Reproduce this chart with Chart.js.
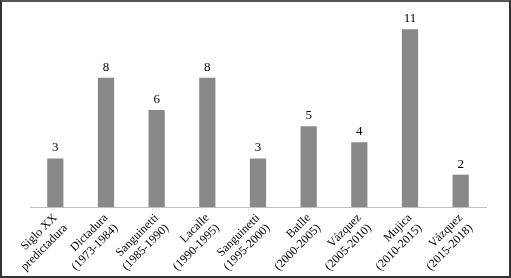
<!DOCTYPE html>
<html>
<head>
<meta charset="utf-8">
<script src="https://cdn.jsdelivr.net/npm/chart.js@4"></script>
<style>
  body { margin: 0; background: #fff; }
  #wrap { position: relative; width: 511px; height: 278px; }
  #frame { position: absolute; left: 0; top: 0; width: 511px; height: 278px; box-sizing: border-box;
           border: 2px solid #333; border-top-color: #555; pointer-events: none; }
</style>
</head>
<body>
<div id="wrap">
  <canvas id="chart" width="511" height="278"></canvas>
  <div id="frame"></div>
</div>
<script>
const labels = [
  ["Siglo XX", "predictadura"],
  ["Dictadura", "(1973-1984)"],
  ["Sanguinetti", "(1985-1990)"],
  ["Lacalle", "(1990-1995)"],
  ["Sanguinetti", "(1995-2000)"],
  ["Batlle", "(2000-2005)"],
  ["Vázquez", "(2005-2010)"],
  ["Mujica", "(2010-2015)"],
  ["Vázquez", "(2015-2018)"]
];
const values = [3, 8, 6, 8, 3, 5, 4, 11, 2];

// numbers over each bar
const valueLabels = {
  id: "valueLabels",
  afterDatasetsDraw(chart) {
    const ctx = chart.ctx;
    const meta = chart.getDatasetMeta(0);
    ctx.save();
    ctx.font = "13px 'Liberation Serif'";
    ctx.fillStyle = "#000";
    ctx.textAlign = "center";
    ctx.textBaseline = "bottom";
    meta.data.forEach((bar, i) => {
      ctx.fillText(values[i], bar.x, bar.y - 4);
    });
    ctx.restore();
  }
};

new Chart(document.getElementById("chart"), {
  type: "bar",
  data: {
    labels,
    datasets: [{
      data: values,
      backgroundColor: "#888888",
      barPercentage: 0.32,
      categoryPercentage: 1
    }]
  },
  options: {
    responsive: false,
    animation: false,
    layout: { padding: { left: 30, right: 25, top: 13, bottom: 0 } },
    plugins: { legend: { display: false }, tooltip: { enabled: false } },
    scales: {
      x: {
        grid: { display: false, drawTicks: false },
        border: { display: true, color: "#c0c0c0", width: 1 },
        ticks: {
          color: "#000",
          font: { family: "'Liberation Serif'", size: 12 },
          maxRotation: 45,
          minRotation: 45,
          padding: 4,
          autoSkip: false
        },
        afterFit: s => { s.height = 71; }
      },
      y: { display: false, min: 0, max: 12 }
    }
  },
  plugins: [valueLabels]
});
</script>
</body>
</html>
